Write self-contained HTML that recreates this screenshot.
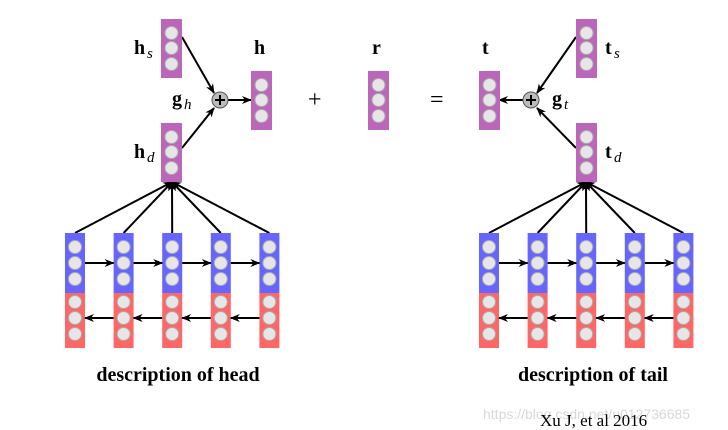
<!DOCTYPE html>
<html><head><meta charset="utf-8"><style>
html,body{margin:0;padding:0;background:#fff;width:728px;height:430px;overflow:hidden}
svg{display:block}
.b{font-family:"Liberation Serif",serif;font-weight:bold;font-size:20px}
.i{font-family:"Liberation Serif",serif;font-style:italic;font-size:15px}
</style></head><body>
<svg id="s" width="728" height="430" viewBox="0 0 728 430" xmlns="http://www.w3.org/2000/svg">
<defs><marker id="a" markerWidth="10" markerHeight="8" refX="9" refY="4" orient="auto" markerUnits="userSpaceOnUse"><path d="M0,0 L10,4 L0,8 L3,4z" fill="#000"/></marker></defs>
<g id="g"></g>
<text class="b" x="134" y="54">h</text><text class="i" x="147" y="58">s</text>
<text class="b" x="254" y="54">h</text>
<text class="b" x="172" y="105">g</text><text class="i" x="184" y="109">h</text>
<text class="b" x="134" y="158">h</text><text class="i" x="147" y="162">d</text>
<text x="308" y="107" font-family="Liberation Serif" font-size="24">+</text>
<text class="b" x="372" y="54">r</text>
<text x="430" y="107" font-family="Liberation Serif" font-size="24">=</text>
<text class="b" x="482" y="54">t</text>
<text class="b" x="605" y="54">t</text><text class="i" x="614" y="58">s</text>
<text class="b" x="552" y="105">g</text><text class="i" x="564" y="109">t</text>
<text class="b" x="605" y="158">t</text><text class="i" x="614" y="162">d</text>
<text class="b" x="178" y="381" text-anchor="middle" font-size="19">description of head</text>
<text class="b" x="593" y="381" text-anchor="middle" font-size="19">description of tail</text>
<text x="483" y="419" font-family="Liberation Sans" font-size="14" fill="#d8d8d8">https://blog.csdn.net/u012736685</text>
<text x="540" y="426" font-family="Liberation Serif" font-size="17">Xu J, et al  2016</text>
</svg>
<script>
var g=document.getElementById('g'),h='';
function col(x,y,c,ys){h+='<rect x="'+x+'" y="'+y+'" width="20" height="'+(ys.length>3?0:59)+'" fill="'+c+'"/>';}
function vec(x,y){h+='<rect x="'+x+'" y="'+y+'" width="21" height="59" fill="#bb66bb"/>';[14,29,45].forEach(function(d){h+='<circle cx="'+(x+10.5)+'" cy="'+(y+d)+'" r="6.5" fill="#e6e6e6" stroke="#aaa"/>';});}
function ln(x1,y1,x2,y2,m){h+='<line x1="'+x1+'" y1="'+y1+'" x2="'+x2+'" y2="'+y2+'" stroke="#000" stroke-width="2"'+(m?' marker-end="url(#a)"':'')+'/>';}
function lstm(x0,tx,ty){var xs=[];for(var k=0;k<5;k++)xs.push(x0+k*48.6);
xs.forEach(function(x){ln(x+10,233,tx,ty,1);});
xs.forEach(function(x){h+='<rect x="'+x+'" y="233" width="20" height="60" fill="#6666ff"/><rect x="'+x+'" y="293" width="20" height="55" fill="#ff6666"/>';
[247,263,279,302,318,334].forEach(function(cy){h+='<circle cx="'+(x+10)+'" cy="'+cy+'" r="6.5" fill="#e6e6e6" stroke="#aaa"/>';});});
for(var k=0;k<4;k++){ln(xs[k]+20,263,xs[k+1],263,1);ln(xs[k+1],318,xs[k]+20,318,1);}}
lstm(65,172,182);lstm(479,586,182);
ln(182,37,214,93,1);ln(182,148,214,108,1);ln(228,100,251,100,1);
ln(576,37,537,93,1);ln(576,148,537,108,1);ln(523,100,499,100,1);
vec(161,19);vec(161,123);vec(251,71);vec(368,71);vec(479,71);vec(576,19);vec(576,123);
[[220,100],[531,100]].forEach(function(p){h+='<circle cx="'+p[0]+'" cy="'+p[1]+'" r="8" fill="#bbb" stroke="#555"/>';ln(p[0]-5,p[1],p[0]+5,p[1]);ln(p[0],p[1]-5,p[0],p[1]+5);});
g.innerHTML=h;
</script>
</body></html>
